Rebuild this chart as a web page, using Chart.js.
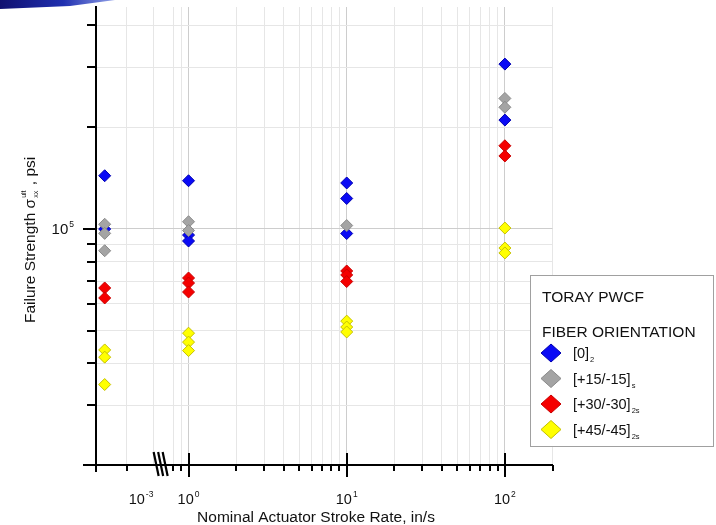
<!DOCTYPE html>
<html>
<head>
<meta charset="utf-8">
<script src="https://cdn.jsdelivr.net/npm/chart.js@4.4.0/dist/chart.umd.min.js"></script>
<style>
  html, body { margin: 0; padding: 0; background: #fff; }
  #wrap { position: relative; width: 716px; height: 525px; }
  #swoosh { position: absolute; left: 0; top: 0; width: 115px; height: 9px;
    background: linear-gradient(to right, #101070, #2030b0 55%, #90a0e8);
    clip-path: polygon(0 0, 115px 0, 70px 6px, 0 9px); }
</style>
</head>
<body>
<div id="wrap">
  <canvas id="c" width="716" height="525"></canvas>
  <div id="swoosh"></div>
</div>
<script>
// rate groups, placed on a broken log axis (decades from 10^0);
// the slowest group sits left of the axis break
const rateExp = ['-3', '0', '1', '2'];
const labelPos = [-0.30, 0, 1, 2];
const groupPos = [-0.53, 0, 1, 2];
const breakPos = -0.17;

// failure strength (psi), one sub-array per rate group
const ply0  = [[143500, 99800], [138700, 95800, 92000], [136600, 122900, 96800], [307000, 209700]];
const ply15 = [[103100, 96900, 86100], [104900, 98800], [102200], [243000, 228800]];
const ply30 = [[66800, 62400], [71500, 69100, 65000], [75000, 73000, 69800], [176000, 164200]];
const ply45 = [[43800, 41700, 34600], [49100, 46200, 43600], [53300, 51200, 49500], [100500, 87700, 84800]];

const legendNames = ['[0]', '[+15/-15]', '[+30/-30]', '[+45/-45]'];
const legendSubs = ['2', 's', '2s', '2s'];
const fills = ['#0a0af5', '#a4a4a4', '#f50000', '#ffff00'];
const edges = ['#0000b0', '#8a8a8a', '#c80000', '#c4c000'];

const yTicks = [2e4, 3e4, 4e4, 5e4, 6e4, 7e4, 8e4, 9e4, 1e5, 2e5, 3e5, 4e5];
const yMin = 2e4, yMax = 4.53e5;
const xMin = -0.585, xMax = Math.log10(200);

// grid / tick positions on the x axis
const minorMult = [2, 3, 4, 5, 6, 7, 8, 9];
const xMajor = [0, 1, 2];
const xMinor = [-0.392, Math.log10(0.8), Math.log10(0.9)];
[0, 1].forEach(d => minorMult.forEach(m => xMinor.push(d + Math.log10(m))));
xMinor.push(xMax);
const xGrid = [-0.392, -0.222, ...xMinor, ...xMajor];

const FONT = "'Liberation Sans', Arial, sans-serif";
const toXY = arr => arr.flatMap((vals, g) => vals.map(v => ({ x: groupPos[g], y: v })));
const series = [ply0, ply15, ply30, ply45];

function line(ctx, x1, y1, x2, y2) {
  ctx.beginPath(); ctx.moveTo(x1, y1); ctx.lineTo(x2, y2); ctx.stroke();
}
// "10" + small superscript, centered on cx (or right-aligned)
function powText(ctx, exp, cx, base, size, expSize, align) {
  ctx.font = size + 'px ' + FONT;
  const w1 = ctx.measureText('10').width;
  ctx.font = expSize + 'px ' + FONT;
  const w2 = ctx.measureText(exp).width + 1;
  const x0 = align === 'right' ? cx - w1 - w2 : cx - (w1 + w2) / 2;
  ctx.textAlign = 'left';
  ctx.font = size + 'px ' + FONT;
  ctx.fillText('10', x0, base);
  ctx.font = expSize + 'px ' + FONT;
  ctx.fillText(exp, x0 + w1 + 1, base - size * 0.45);
}

const decor = {
  id: 'decor',
  afterDraw(chart) {
    const { ctx, chartArea: a, scales: { x, y } } = chart;
    ctx.save();
    ctx.strokeStyle = '#000';
    ctx.fillStyle = '#111';
    ctx.lineWidth = 2;
    ctx.lineCap = 'butt';

    // y tick marks
    yTicks.forEach(v => {
      const py = Math.round(y.getPixelForValue(v));
      const len = (v === 1e5 || v === 2e4) ? 13 : 9;
      line(ctx, a.left - len, py, a.left, py);
    });
    // y axis runs a little below the x axis
    line(ctx, a.left, a.bottom, a.left, a.bottom + 7);
    // x tick marks
    xMinor.forEach(v => {
      const px = Math.round(x.getPixelForValue(v));
      line(ctx, px, a.bottom, px, a.bottom + 6);
    });
    xMajor.forEach(v => {
      const px = Math.round(x.getPixelForValue(v));
      line(ctx, px, a.bottom - 12, px, a.bottom + 12);
    });
    // axis break
    const bx = x.getPixelForValue(breakPos);
    ctx.lineWidth = 2.2;
    [-5, -0.5, 4].forEach(k => line(ctx, bx + k - 3, a.bottom - 13, bx + k + 2, a.bottom + 11));
    ctx.lineWidth = 2;

    // tick labels
    ctx.textBaseline = 'alphabetic';
    rateExp.forEach((e, i) => powText(ctx, e, x.getPixelForValue(labelPos[i]), 504, 14.5, 8.5));
    powText(ctx, '5', 74, Math.round(y.getPixelForValue(1e5)) + 5, 15, 8.5, 'right');

    // x title
    ctx.font = '15.5px ' + FONT;
    ctx.textAlign = 'center';
    ctx.fillText('Nominal Actuator Stroke Rate, in/s', 316, 522);

    // y title with sigma^ult_xx
    ctx.save();
    ctx.translate(35, 323);
    ctx.rotate(-Math.PI / 2);
    ctx.textAlign = 'left';
    ctx.font = '15.5px ' + FONT;
    let tx = 0;
    const t1 = 'Failure Strength \u03c3';
    ctx.fillText(t1, tx, 0);
    tx += ctx.measureText(t1).width + 1;
    ctx.font = '7px ' + FONT;
    ctx.fillText('ult', tx, -9);
    ctx.fillText('xx', tx, 3);
    tx += Math.max(ctx.measureText('ult').width, ctx.measureText('xx').width) + 1;
    ctx.font = '15.5px ' + FONT;
    ctx.fillText(' , psi', tx, 0);
    ctx.restore();

    // legend box
    ctx.fillStyle = '#fff';
    ctx.strokeStyle = '#a0a0a0';
    ctx.lineWidth = 1;
    ctx.fillRect(530.5, 275.5, 183, 171);
    ctx.strokeRect(530.5, 275.5, 183, 171);
    ctx.fillStyle = '#111';
    ctx.font = '15.5px ' + FONT;
    ctx.textAlign = 'left';
    ctx.fillText('TORAY PWCF', 542, 302);
    ctx.fillText('FIBER ORIENTATION', 542, 337);
    legendNames.forEach((name, i) => {
      const cy = 353 + i * 25.5;
      ctx.beginPath();
      ctx.moveTo(551 - 10, cy); ctx.lineTo(551, cy - 9);
      ctx.lineTo(551 + 10, cy); ctx.lineTo(551, cy + 9);
      ctx.closePath();
      ctx.fillStyle = fills[i]; ctx.fill();
      ctx.strokeStyle = edges[i]; ctx.stroke();
      ctx.fillStyle = '#111';
      ctx.font = '14.5px ' + FONT;
      ctx.fillText(name, 573, cy + 5);
      const w = ctx.measureText(name).width;
      ctx.font = '7.5px ' + FONT;
      ctx.fillText(legendSubs[i], 573 + w + 1, cy + 9);
    });
    ctx.restore();
  }
};

new Chart(document.getElementById('c'), {
  type: 'scatter',
  data: {
    datasets: series.map((s, i) => ({
      label: legendNames[i] + legendSubs[i],
      data: toXY(s),
      pointStyle: 'rectRot',
      pointRadius: 6,
      borderWidth: 1,
      backgroundColor: fills[i],
      borderColor: edges[i],
      order: i === 1 ? 0 : i + 1
    }))
  },
  options: {
    responsive: false,
    animation: false,
    layout: { padding: { left: 0, top: 7, right: 716 - 552.5, bottom: 0 } },
    plugins: { legend: { display: false }, tooltip: { enabled: false } },
    scales: {
      x: {
        type: 'linear', min: xMin, max: xMax,
        afterBuildTicks: s => { s.ticks = xGrid.map(v => ({ value: v })); },
        afterFit: s => { s.height = 60; },
        ticks: { display: false },
        grid: {
          drawTicks: false,
          color: c => xMajor.includes(c.tick && c.tick.value) ? '#cdcdcd' : '#e6e6e6'
        },
        border: { display: true, color: '#000', width: 2 }
      },
      y: {
        type: 'logarithmic', min: yMin, max: yMax,
        afterBuildTicks: s => { s.ticks = yTicks.map(v => ({ value: v })); },
        afterFit: s => { s.width = 96; },
        ticks: { display: false },
        grid: {
          drawTicks: false,
          color: c => (c.tick && c.tick.value === 1e5) ? '#cdcdcd' : '#e6e6e6'
        },
        border: { display: true, color: '#000', width: 2 }
      }
    }
  },
  plugins: [decor]
});
</script>
</body>
</html>
